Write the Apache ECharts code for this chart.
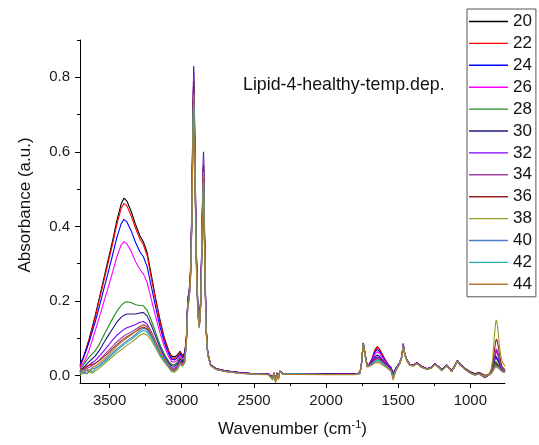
<!DOCTYPE html>
<html>
<head>
<meta charset="utf-8">
<script src="https://cdn.jsdelivr.net/npm/echarts@6.0.0/dist/echarts.min.js"></script>
<style>
html,body{margin:0;padding:0;background:#fff;}
#chart{width:539px;height:445px;}
</style>
</head>
<body>
<div id="chart"></div>
<script>
// Wavenumber grid (cm-1), shared by all spectra
const wavenumbers = [
  3705, 3680, 3660, 3640, 3620, 3600, 3570, 3540, 3510, 3480, 3450, 3420, 3400, 3380, 3350, 3320, 3290, 3265, 3240, 3210, 3180, 3150, 3120, 3090, 3070, 3050, 3030, 3012, 2995, 2980,
  2968, 2958, 2950, 2940, 2930, 2922, 2917, 2912, 2900, 2888, 2878, 2868, 2856, 2849, 2842, 2832, 2820, 2800, 2760, 2700, 2600,
  2500, 2400, 2370, 2360, 2350, 2340, 2330, 2320, 2300, 2200, 2000, 1800,
  1765, 1755, 1742, 1730, 1715, 1700, 1680, 1660, 1645, 1630, 1610, 1590, 1570, 1550, 1535, 1515, 1490, 1475, 1465, 1455, 1440, 1420, 1395, 1370, 1340,
  1300, 1270, 1245, 1220, 1199, 1180, 1164, 1145, 1130, 1110, 1090, 1070, 1040, 1002, 967, 940, 900, 885, 870,
  855, 845, 835, 825, 820, 812, 800, 790, 780, 760
];

const abs20 = [
  0.025, 0.05, 0.075, 0.1, 0.13, 0.16, 0.21, 0.26, 0.31, 0.36, 0.415, 0.46, 0.476, 0.468, 0.44, 0.405, 0.375, 0.358, 0.33, 0.268, 0.205, 0.148, 0.1, 0.066, 0.052, 0.05, 0.055, 0.065, 0.054, 0.06,
  0.1, 0.2, 0.212, 0.26, 0.42, 0.68, 0.77, 0.66, 0.33, 0.17, 0.135, 0.2, 0.44, 0.55, 0.36, 0.13, 0.06, 0.028, 0.018, 0.013, 0.008,
  0.005, 0.004, -0.004, 0.007, -0.012, 0.006, -0.006, 0.011, 0.006, 0.005, 0.004, 0.004,
  0.007, 0.03, 0.086, 0.058, 0.026, 0.03, 0.045, 0.068, 0.076, 0.07, 0.056, 0.042, 0.03, 0.022, 0.006, 0.02, 0.034, 0.05, 0.08, 0.058, 0.042, 0.03, 0.028, 0.034, 0.025,
  0.018, 0.022, 0.031, 0.024, 0.016, 0.022, 0.028, 0.02, 0.014, 0.025, 0.04, 0.03, 0.02, 0.01, 0.005, 0.008, 0.0, 0.002, 0.003,
  0.008, 0.015, 0.025, 0.033, 0.035, 0.032, 0.022, 0.016, 0.013, 0.01
];
const abs22 = [
  0.025, 0.048, 0.072, 0.097, 0.126, 0.155, 0.205, 0.253, 0.302, 0.352, 0.405, 0.448, 0.462, 0.455, 0.428, 0.395, 0.366, 0.35, 0.322, 0.26, 0.2, 0.143, 0.096, 0.063, 0.048, 0.046, 0.051, 0.062, 0.051, 0.057,
  0.097, 0.196, 0.208, 0.256, 0.415, 0.67, 0.76, 0.65, 0.325, 0.167, 0.132, 0.197, 0.435, 0.54, 0.355, 0.128, 0.058, 0.027, 0.017, 0.012, 0.007,
  0.005, 0.004, -0.006, 0.008, -0.014, 0.005, -0.005, 0.012, 0.005, 0.005, 0.004, 0.004,
  0.007, 0.031, 0.087, 0.059, 0.026, 0.031, 0.047, 0.07, 0.078, 0.071, 0.057, 0.042, 0.03, 0.022, 0.004, 0.02, 0.034, 0.05, 0.081, 0.058, 0.042, 0.03, 0.028, 0.035, 0.025,
  0.018, 0.022, 0.031, 0.024, 0.016, 0.022, 0.028, 0.02, 0.014, 0.025, 0.04, 0.03, 0.02, 0.01, 0.005, 0.008, 0.0, 0.002, 0.004,
  0.009, 0.017, 0.028, 0.037, 0.04, 0.036, 0.025, 0.017, 0.013, 0.01
];
const abs24 = [
  0.03, 0.05, 0.07, 0.092, 0.118, 0.143, 0.187, 0.232, 0.276, 0.322, 0.37, 0.407, 0.419, 0.412, 0.388, 0.357, 0.332, 0.318, 0.292, 0.237, 0.182, 0.13, 0.088, 0.058, 0.044, 0.042, 0.047, 0.058, 0.048, 0.054,
  0.098, 0.2, 0.215, 0.262, 0.425, 0.69, 0.78, 0.67, 0.335, 0.172, 0.136, 0.202, 0.445, 0.56, 0.365, 0.132, 0.06, 0.028, 0.018, 0.013, 0.008,
  0.005, 0.004, -0.003, 0.006, -0.01, 0.007, -0.007, 0.01, 0.006, 0.005, 0.004, 0.004,
  0.007, 0.03, 0.087, 0.058, 0.026, 0.03, 0.044, 0.064, 0.07, 0.065, 0.052, 0.04, 0.029, 0.021, 0.005, 0.02, 0.034, 0.05, 0.082, 0.058, 0.042, 0.03, 0.028, 0.034, 0.025,
  0.018, 0.022, 0.031, 0.024, 0.016, 0.022, 0.028, 0.02, 0.013, 0.025, 0.04, 0.03, 0.02, 0.009, 0.004, 0.007, -0.002, 0.001, 0.003,
  0.01, 0.02, 0.036, 0.05, 0.055, 0.05, 0.034, 0.022, 0.016, 0.012
];
const abs26 = [
  0.02, 0.035, 0.05, 0.07, 0.095, 0.12, 0.158, 0.197, 0.236, 0.276, 0.318, 0.35, 0.359, 0.353, 0.333, 0.305, 0.285, 0.272, 0.25, 0.203, 0.157, 0.113, 0.077, 0.05, 0.038, 0.036, 0.041, 0.052, 0.044, 0.05,
  0.094, 0.195, 0.208, 0.255, 0.415, 0.67, 0.76, 0.65, 0.328, 0.168, 0.133, 0.198, 0.44, 0.55, 0.36, 0.13, 0.059, 0.027, 0.017, 0.012, 0.007,
  0.005, 0.004, -0.005, 0.007, -0.012, 0.006, -0.006, 0.011, 0.005, 0.004, 0.003, 0.004,
  0.007, 0.03, 0.086, 0.058, 0.026, 0.03, 0.042, 0.058, 0.064, 0.06, 0.049, 0.038, 0.028, 0.02, 0.002, 0.019, 0.034, 0.052, 0.087, 0.06, 0.042, 0.03, 0.028, 0.034, 0.025,
  0.018, 0.022, 0.031, 0.024, 0.015, 0.021, 0.027, 0.019, 0.012, 0.024, 0.039, 0.029, 0.019, 0.008, 0.003, 0.006, -0.004, 0.0, 0.003,
  0.01, 0.022, 0.042, 0.058, 0.064, 0.058, 0.04, 0.026, 0.018, 0.012
];
const abs28 = [
  0.012, 0.03, 0.04, 0.05, 0.058, 0.066, 0.085, 0.108, 0.13, 0.152, 0.172, 0.188, 0.195, 0.198, 0.196, 0.19, 0.188, 0.187, 0.175, 0.147, 0.114, 0.082, 0.057, 0.038, 0.03, 0.029, 0.035, 0.047, 0.04, 0.047,
  0.092, 0.195, 0.21, 0.26, 0.43, 0.7, 0.79, 0.68, 0.34, 0.172, 0.135, 0.2, 0.45, 0.57, 0.37, 0.133, 0.06, 0.028, 0.018, 0.012, 0.007,
  0.004, 0.003, -0.008, 0.009, -0.016, 0.004, -0.009, 0.013, 0.004, 0.004, 0.003, 0.003,
  0.006, 0.03, 0.086, 0.057, 0.025, 0.028, 0.036, 0.047, 0.05, 0.048, 0.04, 0.032, 0.024, 0.017, 0.0, 0.018, 0.033, 0.05, 0.082, 0.058, 0.041, 0.029, 0.027, 0.033, 0.024,
  0.017, 0.022, 0.031, 0.024, 0.015, 0.021, 0.028, 0.019, 0.012, 0.024, 0.039, 0.029, 0.019, 0.008, 0.003, 0.006, -0.003, 0.001, 0.002,
  0.007, 0.015, 0.028, 0.038, 0.043, 0.04, 0.028, 0.018, 0.014, 0.01
];
const abs30 = [
  0.01, 0.022, 0.03, 0.038, 0.045, 0.052, 0.068, 0.088, 0.107, 0.125, 0.143, 0.156, 0.162, 0.165, 0.165, 0.165, 0.168, 0.169, 0.16, 0.134, 0.104, 0.075, 0.051, 0.034, 0.026, 0.025, 0.031, 0.044, 0.037, 0.045,
  0.095, 0.21, 0.222, 0.275, 0.45, 0.73, 0.83, 0.71, 0.355, 0.18, 0.14, 0.21, 0.47, 0.6, 0.39, 0.14, 0.063, 0.029, 0.019, 0.013, 0.008,
  0.005, 0.004, -0.004, 0.006, -0.011, 0.007, -0.006, 0.011, 0.006, 0.005, 0.004, 0.004,
  0.007, 0.031, 0.088, 0.059, 0.026, 0.029, 0.038, 0.051, 0.055, 0.052, 0.043, 0.034, 0.025, 0.018, 0.002, 0.019, 0.034, 0.051, 0.084, 0.059, 0.042, 0.03, 0.028, 0.034, 0.025,
  0.018, 0.022, 0.031, 0.024, 0.016, 0.022, 0.028, 0.02, 0.013, 0.025, 0.04, 0.03, 0.02, 0.009, 0.004, 0.007, -0.002, 0.001, 0.003,
  0.01, 0.021, 0.038, 0.053, 0.058, 0.053, 0.036, 0.024, 0.017, 0.012
];
const abs32 = [
  0.008, 0.018, 0.022, 0.028, 0.035, 0.04, 0.052, 0.066, 0.08, 0.095, 0.108, 0.118, 0.124, 0.128, 0.132, 0.137, 0.143, 0.145, 0.138, 0.117, 0.091, 0.065, 0.045, 0.029, 0.021, 0.02, 0.026, 0.039, 0.033, 0.041,
  0.092, 0.205, 0.218, 0.27, 0.445, 0.72, 0.815, 0.7, 0.35, 0.178, 0.138, 0.207, 0.465, 0.595, 0.385, 0.138, 0.062, 0.029, 0.018, 0.013, 0.008,
  0.005, 0.004, -0.006, 0.007, -0.013, 0.005, -0.007, 0.012, 0.005, 0.004, 0.003, 0.004,
  0.007, 0.03, 0.087, 0.058, 0.026, 0.029, 0.036, 0.047, 0.05, 0.048, 0.04, 0.032, 0.024, 0.017, 0.0, 0.018, 0.034, 0.051, 0.084, 0.059, 0.042, 0.03, 0.028, 0.034, 0.025,
  0.018, 0.022, 0.031, 0.023, 0.015, 0.021, 0.027, 0.019, 0.012, 0.024, 0.039, 0.029, 0.019, 0.008, 0.002, 0.005, -0.005, -0.002, 0.002,
  0.01, 0.023, 0.044, 0.062, 0.068, 0.062, 0.042, 0.027, 0.018, 0.012
];
const abs34 = [
  0.006, 0.015, 0.018, 0.022, 0.027, 0.032, 0.042, 0.054, 0.066, 0.078, 0.09, 0.1, 0.106, 0.111, 0.117, 0.124, 0.132, 0.136, 0.13, 0.111, 0.086, 0.061, 0.042, 0.027, 0.018, 0.017, 0.023, 0.036, 0.03, 0.038,
  0.09, 0.2, 0.213, 0.265, 0.44, 0.71, 0.8, 0.69, 0.345, 0.175, 0.136, 0.204, 0.46, 0.58, 0.378, 0.136, 0.061, 0.028, 0.018, 0.012, 0.007,
  0.004, 0.003, -0.007, 0.008, -0.015, 0.005, -0.008, 0.012, 0.004, 0.004, 0.003, 0.003,
  0.006, 0.03, 0.086, 0.057, 0.025, 0.028, 0.034, 0.043, 0.045, 0.044, 0.037, 0.03, 0.022, 0.015, -0.002, 0.017, 0.033, 0.05, 0.083, 0.058, 0.041, 0.029, 0.027, 0.033, 0.024,
  0.017, 0.021, 0.03, 0.023, 0.014, 0.02, 0.027, 0.018, 0.011, 0.023, 0.038, 0.028, 0.018, 0.007, 0.001, 0.004, -0.006, -0.003, 0.002,
  0.011, 0.025, 0.047, 0.066, 0.072, 0.066, 0.045, 0.029, 0.019, 0.013
];
const abs36 = [
  0.01, 0.02, 0.025, 0.028, 0.03, 0.033, 0.04, 0.05, 0.06, 0.072, 0.083, 0.093, 0.099, 0.104, 0.111, 0.118, 0.126, 0.13, 0.125, 0.107, 0.083, 0.059, 0.04, 0.025, 0.016, 0.015, 0.021, 0.034, 0.028, 0.037,
  0.088, 0.198, 0.21, 0.262, 0.435, 0.7, 0.79, 0.68, 0.34, 0.173, 0.135, 0.202, 0.455, 0.565, 0.372, 0.134, 0.06, 0.028, 0.017, 0.012, 0.007,
  0.004, 0.003, -0.005, 0.007, -0.012, 0.006, -0.007, 0.011, 0.005, 0.004, 0.003, 0.003,
  0.006, 0.03, 0.086, 0.057, 0.025, 0.028, 0.034, 0.043, 0.045, 0.044, 0.037, 0.03, 0.022, 0.015, 0.0, 0.017, 0.033, 0.05, 0.082, 0.058, 0.041, 0.029, 0.027, 0.033, 0.024,
  0.017, 0.021, 0.03, 0.023, 0.014, 0.02, 0.027, 0.018, 0.011, 0.023, 0.038, 0.028, 0.018, 0.007, 0.002, 0.005, -0.004, -0.001, 0.003,
  0.014, 0.033, 0.063, 0.09, 0.098, 0.09, 0.06, 0.038, 0.024, 0.015
];
const abs38 = [
  0.0, 0.008, 0.004, 0.01, 0.006, 0.012, 0.02, 0.03, 0.04, 0.05, 0.06, 0.069, 0.075, 0.081, 0.089, 0.098, 0.108, 0.113, 0.109, 0.094, 0.073, 0.052, 0.035, 0.021, 0.01, 0.009, 0.016, 0.03, 0.025, 0.034,
  0.085, 0.19, 0.203, 0.252, 0.42, 0.675, 0.755, 0.655, 0.328, 0.167, 0.131, 0.196, 0.44, 0.545, 0.358, 0.13, 0.058, 0.027, 0.016, 0.011, 0.006,
  0.003, 0.002, -0.01, 0.008, -0.018, 0.003, -0.01, 0.012, 0.003, 0.003, 0.002, 0.002,
  0.005, 0.029, 0.085, 0.056, 0.024, 0.026, 0.031, 0.038, 0.04, 0.039, 0.033, 0.027, 0.02, 0.013, -0.006, 0.015, 0.032, 0.049, 0.08, 0.057, 0.04, 0.028, 0.026, 0.032, 0.023,
  0.016, 0.02, 0.03, 0.022, 0.014, 0.02, 0.026, 0.018, 0.011, 0.023, 0.038, 0.028, 0.018, 0.007, 0.002, 0.005, -0.003, 0.0, 0.004,
  0.018, 0.045, 0.1, 0.142, 0.149, 0.135, 0.085, 0.055, 0.038, 0.025
];
const abs40 = [
  0.012, 0.005, 0.015, 0.01, 0.018, 0.02, 0.028, 0.038, 0.049, 0.06, 0.071, 0.081, 0.087, 0.093, 0.101, 0.11, 0.121, 0.127, 0.122, 0.105, 0.081, 0.058, 0.039, 0.024, 0.014, 0.013, 0.019, 0.033, 0.027, 0.036,
  0.085, 0.19, 0.202, 0.25, 0.415, 0.665, 0.74, 0.645, 0.322, 0.165, 0.13, 0.194, 0.435, 0.53, 0.35, 0.128, 0.057, 0.027, 0.016, 0.011, 0.006,
  0.004, 0.003, -0.007, 0.007, -0.014, 0.004, -0.008, 0.012, 0.004, 0.004, 0.003, 0.003,
  0.006, 0.029, 0.085, 0.056, 0.024, 0.027, 0.032, 0.04, 0.042, 0.041, 0.034, 0.028, 0.021, 0.014, -0.003, 0.016, 0.032, 0.049, 0.081, 0.057, 0.04, 0.028, 0.026, 0.032, 0.023,
  0.016, 0.02, 0.03, 0.022, 0.014, 0.02, 0.026, 0.018, 0.011, 0.023, 0.038, 0.028, 0.018, 0.007, 0.002, 0.005, -0.003, 0.0, 0.003,
  0.007, 0.013, 0.022, 0.028, 0.031, 0.029, 0.021, 0.015, 0.012, 0.009
];
const abs42 = [
  0.005, 0.015, 0.006, 0.016, 0.01, 0.018, 0.025, 0.035, 0.045, 0.056, 0.067, 0.077, 0.083, 0.089, 0.097, 0.106, 0.116, 0.121, 0.117, 0.101, 0.078, 0.056, 0.038, 0.023, 0.012, 0.011, 0.018, 0.032, 0.026, 0.035,
  0.084, 0.188, 0.2, 0.248, 0.41, 0.655, 0.725, 0.635, 0.318, 0.163, 0.129, 0.192, 0.43, 0.52, 0.345, 0.126, 0.056, 0.026, 0.016, 0.011, 0.006,
  0.004, 0.003, -0.008, 0.008, -0.015, 0.004, -0.009, 0.012, 0.004, 0.004, 0.003, 0.003,
  0.006, 0.029, 0.085, 0.056, 0.024, 0.026, 0.031, 0.039, 0.04, 0.039, 0.033, 0.027, 0.02, 0.013, -0.005, 0.015, 0.032, 0.049, 0.08, 0.057, 0.04, 0.028, 0.026, 0.032, 0.023,
  0.016, 0.02, 0.03, 0.022, 0.014, 0.02, 0.026, 0.018, 0.011, 0.023, 0.038, 0.028, 0.018, 0.007, 0.002, 0.005, -0.002, 0.001, 0.003,
  0.006, 0.012, 0.02, 0.026, 0.028, 0.026, 0.019, 0.014, 0.011, 0.008
];
const abs44 = [
  0.018, 0.008, 0.02, 0.012, 0.022, 0.025, 0.033, 0.043, 0.054, 0.066, 0.078, 0.089, 0.095, 0.101, 0.109, 0.118, 0.13, 0.137, 0.132, 0.114, 0.088, 0.063, 0.043, 0.026, 0.014, 0.013, 0.02, 0.034, 0.028, 0.037,
  0.083, 0.185, 0.197, 0.244, 0.4, 0.64, 0.7, 0.62, 0.31, 0.16, 0.127, 0.19, 0.42, 0.505, 0.335, 0.124, 0.055, 0.026, 0.016, 0.011, 0.006,
  0.004, 0.003, -0.012, 0.009, -0.019, 0.003, -0.011, 0.013, 0.003, 0.003, 0.003, 0.003,
  0.005, 0.029, 0.085, 0.056, 0.023, 0.025, 0.029, 0.034, 0.035, 0.034, 0.029, 0.024, 0.018, 0.011, -0.012, 0.013, 0.031, 0.048, 0.079, 0.056, 0.039, 0.028, 0.026, 0.032, 0.023,
  0.016, 0.02, 0.03, 0.022, 0.014, 0.02, 0.026, 0.018, 0.011, 0.023, 0.038, 0.028, 0.018, 0.007, 0.002, 0.005, -0.002, 0.001, 0.003,
  0.005, 0.011, 0.018, 0.024, 0.026, 0.024, 0.018, 0.013, 0.01, 0.008
];

const temperatures = ['20', '22', '24', '26', '28', '30', '32', '34', '36', '38', '40', '42', '44'];
const spectra = [abs20, abs22, abs24, abs26, abs28, abs30, abs32, abs34, abs36, abs38, abs40, abs42, abs44];
const xMajorTicks = [1000, 1500, 2000, 2500, 3000, 3500];
const xMinorTicks = [1250, 1750, 2250, 2750, 3250];
const yMajorTicks = [0, 0.2, 0.4, 0.6, 0.8];
const yMinorTicks = [0.1, 0.3, 0.5, 0.7, 0.9];

const colors = ['#000000', '#ff0000', '#0000ff', '#ff00ff', '#1f8b1f', '#1a1a80', '#8000ff',
                '#a040a0', '#9b2020', '#999922', '#4a7ec0', '#2ab0b0', '#b4782e'];
const FONT = "'Liberation Sans', Arial, Helvetica, sans-serif";

const chart = echarts.init(document.getElementById('chart'), null, {renderer: 'canvas'});

const series = temperatures.map((t, i) => ({
  name: t,
  type: 'line',
  xAxisIndex: 0,
  yAxisIndex: 0,
  showSymbol: false,
  symbol: 'none',
  clip: true,
  lineStyle: {width: 1.1, color: colors[i]},
  itemStyle: {color: colors[i]},
  data: wavenumbers.map((w, j) => [w, spectra[i][j]])
}));

const option = {
  animation: false,
  backgroundColor: '#ffffff',
  grid: {left: 80, right: 34, top: 40, bottom: 62, containLabel: false, outerBoundsMode: 'none'},
  legend: {
    orient: 'vertical',
    left: 467,
    top: 9,
    padding: [4, 4, 4, 2],
    itemGap: 4.9,
    itemWidth: 39,
    itemHeight: 1.4,
    icon: 'rect',
    backgroundColor: '#ffffff',
    borderColor: '#555555',
    borderWidth: 1,
    textStyle: {fontSize: 17, lineHeight: 17, color: '#111111', fontFamily: FONT},
    data: temperatures
  },
  xAxis: [
    {
      type: 'value', inverse: true, min: 760, max: 3705, position: 'bottom',
      axisLine: {show: true, onZero: false, lineStyle: {color: '#000', width: 1}},
      axisTick: {show: true, inside: false, length: 5, customValues: xMajorTicks, lineStyle: {color: '#000', width: 1}},
      axisLabel: {show: true, customValues: xMajorTicks, margin: 10, fontSize: 15, color: '#1a1a1a', fontFamily: FONT,
                  formatter: v => String(Math.round(v))},
      splitLine: {show: false},
      name: '{a|Wavenumber (cm}{s|-1}{a|)}',
      nameLocation: 'middle',
      nameGap: 36,
      nameTextStyle: {
        fontSize: 17, fontFamily: FONT, color: '#111',
        rich: {
          a: {fontSize: 17, lineHeight: 20, fontFamily: FONT, color: '#111'},
          s: {fontSize: 11, lineHeight: 11, verticalAlign: 'top', fontFamily: FONT, color: '#111'}
        }
      }
    },
    {
      type: 'value', inverse: true, min: 760, max: 3705, position: 'bottom', offset: 0,
      axisLine: {show: false, onZero: false},
      axisTick: {show: true, inside: false, length: 3, customValues: xMinorTicks, lineStyle: {color: '#000', width: 1}},
      axisLabel: {show: false},
      splitLine: {show: false}
    }
  ],
  yAxis: [
    {
      type: 'value', min: -0.02, max: 0.9, position: 'left',
      axisLine: {show: true, onZero: false, lineStyle: {color: '#000', width: 1}},
      axisTick: {show: true, inside: false, length: 5, customValues: yMajorTicks, lineStyle: {color: '#000', width: 1}},
      axisLabel: {show: true, customValues: yMajorTicks, margin: 10, fontSize: 15, color: '#1a1a1a', fontFamily: FONT,
                  formatter: v => Number(v).toFixed(1)},
      splitLine: {show: false}
    },
    {
      type: 'value', min: -0.02, max: 0.9, position: 'left', offset: 0,
      axisLine: {show: false, onZero: false},
      axisTick: {show: true, inside: false, length: 3, customValues: yMinorTicks, lineStyle: {color: '#000', width: 1}},
      axisLabel: {show: false},
      splitLine: {show: false}
    }
  ],
  graphic: [
    {
      type: 'text', x: 25, y: 205, rotation: Math.PI / 2, silent: true,
      style: {text: 'Absorbance (a.u.)', fontSize: 17, fontFamily: FONT, fill: '#111', align: 'center', verticalAlign: 'middle'}
    },
    {
      type: 'text', x: 243, y: 85, silent: true,
      style: {text: 'Lipid-4-healthy-temp.dep.', fontSize: 17.8, fontFamily: FONT, fill: '#111', align: 'left', verticalAlign: 'middle'}
    }
  ],
  series: series
};
chart.setOption(option);
</script>
</body>
</html>
